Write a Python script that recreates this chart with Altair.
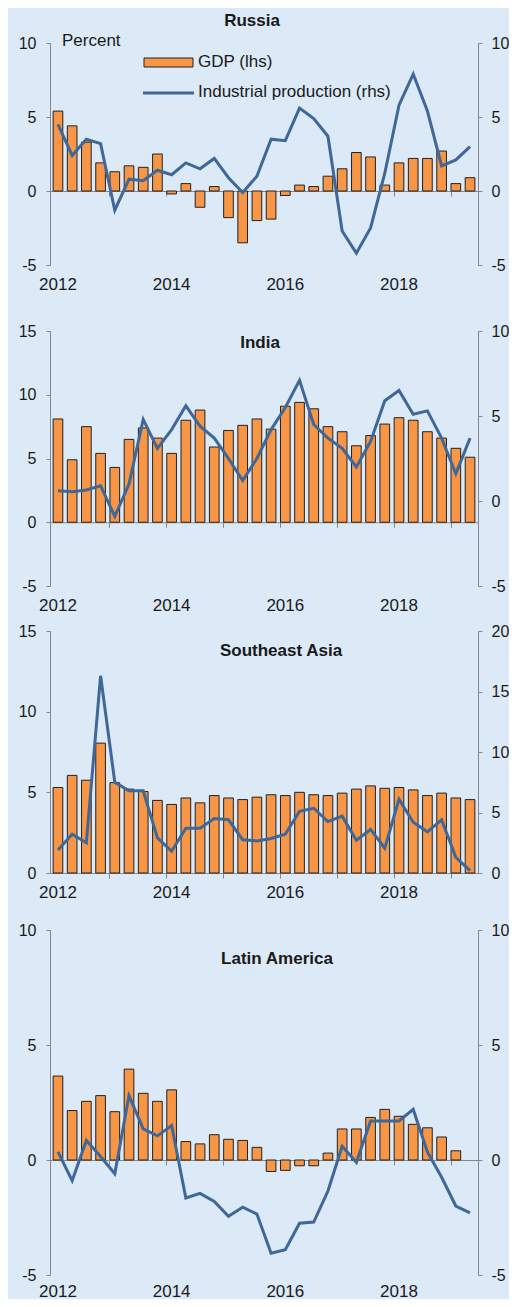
import altair as alt
import pandas as pd

# ---------------- data ----------------
quarters = [f"{y}Q{q}" for y in range(2012, 2020) for q in range(1, 5)][:30]
label_quarters = ["2012Q1", "2014Q1", "2016Q1", "2018Q1"]
tick_quarters = ["2013Q1", "2014Q1", "2015Q1", "2016Q1", "2017Q1", "2018Q1", "2019Q1"]

russia_gdp = [5.4, 4.4, 3.3, 1.9, 1.3, 1.7, 1.6, 2.5, -0.2, 0.5, -1.1, 0.3, -1.8, -3.5, -2.0,
              -1.9, -0.3, 0.4, 0.3, 1.0, 1.5, 2.6, 2.3, 0.4, 1.9, 2.2, 2.2, 2.7, 0.5, 0.9]
russia_ip = [4.5, 2.4, 3.5, 3.2, -1.3, 0.8, 0.7, 1.4, 1.1, 1.9, 1.5, 2.2, 0.9, -0.1, 1.0,
             3.5, 3.4, 5.6, 4.9, 3.7, -2.7, -4.2, -2.5, 1.2, 5.8, 7.9, 5.4, 1.7, 2.1, 3.0]

india_gdp = [8.1, 4.9, 7.5, 5.4, 4.3, 6.5, 7.4, 6.6, 5.4, 8.0, 8.8, 5.9, 7.2, 7.6, 8.1,
             7.3, 9.1, 9.4, 8.9, 7.5, 7.1, 6.0, 6.8, 7.7, 8.2, 8.0, 7.1, 6.6, 5.8, 5.1]
india_ip = [0.6, 0.55, 0.65, 0.9, -0.9, 1.0, 4.8, 3.1, 4.2, 5.6, 4.4, 3.7, 2.5, 1.2, 2.5,
            4.2, 5.5, 7.1, 4.5, 3.7, 3.1, 2.0, 3.5, 5.9, 6.5, 5.1, 5.3, 3.7, 1.6, 3.7]

se_gdp = [5.3, 6.05, 5.75, 8.05, 5.6, 5.2, 5.05, 4.5, 4.25, 4.65, 4.35, 4.8, 4.65, 4.55, 4.7,
          4.85, 4.8, 5.0, 4.85, 4.8, 4.95, 5.2, 5.4, 5.25, 5.3, 5.15, 4.8, 4.95, 4.65, 4.55]
se_ip = [1.9, 3.2, 2.5, 16.3, 7.5, 6.8, 6.8, 2.9, 1.8, 3.7, 3.7, 4.5, 4.4, 2.75, 2.65,
         2.85, 3.2, 5.1, 5.35, 4.25, 4.7, 2.7, 3.6, 2.05, 6.1, 4.2, 3.4, 4.4, 1.3, 0.2]

latam_gdp = [3.65, 2.15, 2.55, 2.8, 2.1, 3.95, 2.9, 2.55, 3.05, 0.8, 0.7, 1.1, 0.9, 0.85, 0.55,
             -0.5, -0.45, -0.25, -0.25, 0.3, 1.35, 1.35, 1.85, 2.2, 1.9, 1.55, 1.4, 1.0, 0.4]
latam_ip = [0.35, -0.9, 0.85, 0.15, -0.6, 2.8, 1.35, 1.05, 1.5, -1.65, -1.45, -1.8, -2.45, -2.05, -2.35,
            -4.05, -3.9, -2.75, -2.7, -1.35, 0.6, -0.1, 1.7, 1.7, 1.7, 2.2, 0.35, -0.75, -2.0, -2.3]

legend_labels = ["GDP (lhs)", "Industrial production (rhs)"]

# ---------------- style ----------------
BG = "#dce9f7"
ORANGE = "#f79646"
BLUE = "#3f6797"
GRAY = "#868686"
TXT = "#1a1a1a"
FONT = "Liberation Sans"
W = 428


def text_layer(s, x, y, bold=False, align="center", size=17):
    return alt.Chart(pd.DataFrame({"t": [s]})).mark_text(
        font=FONT, fontSize=size, fontWeight="bold" if bold else "normal",
        color=TXT, align=align, baseline="middle"
    ).encode(text="t:N", x=alt.value(x), y=alt.value(y))


def panel(name, gdp, ip, h, ldom, lvals, rdom, rvals, title_x, title_y, spacer_top,
          xlab_pad=11.5, extras=()):
    gdf = pd.DataFrame({"q": quarters[:len(gdp)], "v": gdp})
    idf = pd.DataFrame({"q": quarters[:len(ip)], "v": ip})
    xscale = alt.Scale(type="band", domain=quarters, paddingInner=0.32, paddingOuter=0.22)
    y0 = h * ldom[1] / (ldom[1] - ldom[0])
    off = -(h - y0)
    bars = alt.Chart(gdf).mark_bar(color=ORANGE, stroke="#222222", strokeWidth=1).encode(
        x=alt.X("q:O", scale=xscale,
                axis=alt.Axis(values=label_quarters, labelExpr="substring(datum.value, 0, 4)",
                              bandPosition=0.5, domain=False, ticks=False, labelPadding=xlab_pad,
                              labelFontSize=17, labelAngle=0, title=None, orient="bottom")),
        y=alt.Y("v:Q", scale=alt.Scale(domain=ldom, nice=False, zero=False),
                axis=alt.Axis(values=lvals, orient="left", tickSize=4, labelPadding=10,
                              labelExpr="'' + datum.value", title=None)),
    )
    line = alt.Chart(idf).mark_line(color=BLUE, strokeWidth=3).encode(
        x=alt.X("q:O", scale=xscale,
                axis=alt.Axis(values=tick_quarters, bandPosition=0, labels=False, ticks=True,
                              tickSize=5, domain=True, offset=off, orient="bottom", title=None)),
        y=alt.Y("v:Q", scale=alt.Scale(domain=rdom, nice=False, zero=False),
                axis=alt.Axis(values=rvals, orient="right", tickSize=4, labelPadding=9,
                              labelExpr="'' + datum.value", title=None)),
    )
    spacer = alt.Chart(pd.DataFrame({"s": [0]})).mark_rule(opacity=0).encode(
        x=alt.value(0), y=alt.value(spacer_top), y2=alt.value(0)
    )
    title = text_layer(name, title_x, title_y, bold=True)
    layers = [bars, line, title, spacer] + list(extras)
    return alt.layer(*layers).resolve_scale(y="independent").resolve_axis(x="independent").properties(
        width=W, height=h
    )


# Russia legend (drawn in the top panel)
leg_rect = alt.Chart(pd.DataFrame({"label": legend_labels[:1]})).mark_rect(
    fill=ORANGE, stroke="#222222", strokeWidth=1
).encode(x=alt.value(94), x2=alt.value(143), y=alt.value(15), y2=alt.value(24))
leg_line = alt.Chart(pd.DataFrame({"label": legend_labels[1:]})).mark_rule(
    color=BLUE, strokeWidth=3
).encode(x=alt.value(93), x2=alt.value(144), y=alt.value(50))
leg_t1 = text_layer(legend_labels[0], 148, 19, align="left")
leg_t2 = text_layer(legend_labels[1], 148, 48.5, align="left")
percent = text_layer("Percent", 12, -2, align="left")

russia = panel("Russia", russia_gdp, russia_ip, 222, [-5, 10], [-5, 0, 5, 10], [-5, 10], [-5, 0, 5, 10],
               202, -22, -30, extras=(leg_rect, leg_line, leg_t1, leg_t2, percent))
india = panel("India", india_gdp, india_ip, 255, [-5, 15], [-5, 0, 5, 10, 15], [-5, 10], [-5, 0, 5, 10],
              210, 12, -37.3)
seasia = panel("Southeast Asia", se_gdp, se_ip, 242, [0, 15], [0, 5, 10, 15], [0, 20], [0, 5, 10, 15, 20],
               231, 20, -16.3)
latam = panel("Latin America", latam_gdp, latam_ip, 345, [-5, 10], [-5, 0, 5, 10], [-5, 10], [-5, 0, 5, 10],
              227, 29, -28.3, xlab_pad=8)

chart = alt.vconcat(russia, india, seasia, latam, spacing=0).configure(
    background=BG, padding={"left": 10, "top": 4, "right": 0, "bottom": 0}
).configure_view(stroke=None).configure_axis(
    labelFont=FONT, labelFontSize=16, labelColor=TXT, domainColor=GRAY, tickColor=GRAY,
    grid=False, domainWidth=1, tickWidth=1
)

chart.save("out.html", embed_options={"renderer": "svg", "actions": False})
